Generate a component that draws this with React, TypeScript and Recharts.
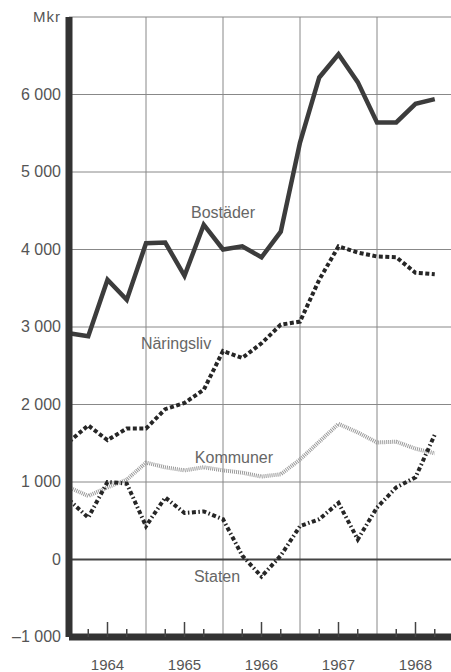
import { LineChart, Line, XAxis, YAxis, CartesianGrid, ReferenceLine, ReferenceDot } from 'recharts';

// quarterly values, 1964 Q1 .. 1968 Q4 (index 0..19)
const quarters = Array.from({ length: 20 }, (_, i) => i);
const bostader = [2920, 2880, 3610, 3350, 4080, 4090, 3660, 4320, 4000, 4040, 3900, 4230, 5380, 6220, 6520, 6160, 5640, 5640, 5880, 5940];
const naringsliv = [1520, 1730, 1540, 1690, 1690, 1940, 2020, 2190, 2690, 2600, 2790, 3030, 3070, 3610, 4040, 3960, 3910, 3900, 3700, 3680];
const kommuner = [930, 820, 930, 1030, 1250, 1190, 1150, 1190, 1150, 1120, 1070, 1100, 1290, 1520, 1750, 1640, 1510, 1520, 1430, 1370];
const staten = [770, 540, 1000, 980, 430, 800, 600, 620, 520, 50, -220, 50, 430, 520, 730, 260, 670, 930, 1060, 1610];

const years = ['1964', '1965', '1966', '1967', '1968'];
const yTicks = [-1000, 0, 1000, 2000, 3000, 4000, 5000, 6000, 7000];
const xTicks = quarters.filter(q => q % 4 !== 0);
const yearLines = [4, 8, 12, 16];

const data = quarters.map(i => ({
  q: i,
  bostader: bostader[i],
  naringsliv: naringsliv[i],
  kommuner: kommuner[i],
  staten: staten[i],
}));

const FONT = '"Liberation Sans", Arial, sans-serif';
const BOTTOM = 637;

const fmt = (v: number) => {
  if (v === 0) return '0';
  const s = Math.abs(v).toString().replace(/\B(?=(\d{3})+(?!\d))/g, ' ');
  return v < 0 ? '\u2013' + s : s;
};

const YTick = ({ y, payload }: any) => {
  const v = payload.value;
  if (v === 7000) {
    return (
      <text x={61} y={y + 5} textAnchor="end" fontSize={15} letterSpacing={1} fill="#555" fontFamily={FONT}>
        Mkr
      </text>
    );
  }
  return (
    <text x={61} y={y + 5} textAnchor="end" fontSize={16} fill="#555" fontFamily={FONT}>
      {fmt(v)}
    </text>
  );
};

const XTick = ({ x, payload }: any) => {
  const q = payload.value;
  const mid = q % 4 === 2;
  return (
    <g>
      <line x1={x} x2={x} y1={BOTTOM} y2={mid ? BOTTOM - 15 : BOTTOM - 8} stroke="#444" strokeWidth={1.5} />
      {mid && (
        <text x={x} y={670} textAnchor="middle" fontSize={15} fill="#555" fontFamily={FONT}>
          {years[Math.floor(q / 4)]}
        </text>
      )}
    </g>
  );
};

const seriesLabel = (value: string) => ({
  value,
  position: 'center' as const,
  fill: '#666',
  fontSize: 16,
  fontFamily: FONT,
});

export default function App() {
  return (
    <div style={{ position: 'absolute', left: 0, top: 0, width: 451, height: 672, overflow: 'hidden', background: '#fff' }}>
      <LineChart width={460} height={672} data={data} margin={{ top: 17, right: 6, left: 0, bottom: 0 }}>
        <CartesianGrid vertical={false} stroke="#888" strokeWidth={1} />
        {yearLines.map(x => (
          <ReferenceLine key={x} x={x} stroke="#888" strokeWidth={1} />
        ))}
        <ReferenceLine y={0} stroke="#444" strokeWidth={2} />
        <XAxis
          dataKey="q"
          type="number"
          domain={[0, 20]}
          ticks={xTicks}
          interval={0}
          height={35}
          tickLine={false}
          axisLine={{ stroke: '#333', strokeWidth: 7 }}
          tick={<XTick />}
        />
        <YAxis
          type="number"
          domain={[-1000, 7000]}
          ticks={yTicks}
          interval={0}
          width={69}
          tickLine={false}
          axisLine={{ stroke: '#333', strokeWidth: 7 }}
          tick={<YTick />}
        />
        <Line dataKey="kommuner" stroke="#9a9a9a" strokeWidth={4} strokeDasharray="1 1" dot={false} isAnimationActive={false} />
        <Line dataKey="staten" stroke="#262626" strokeWidth={4} strokeDasharray="4 2.5 1.5 2.5" dot={false} isAnimationActive={false} />
        <Line dataKey="naringsliv" stroke="#262626" strokeWidth={4} strokeDasharray="4 2.5" dot={false} isAnimationActive={false} />
        <Line dataKey="bostader" stroke="#3c3c3c" strokeWidth={4.5} dot={false} isAnimationActive={false} />
        <ReferenceDot x={8} y={4480} r={0} stroke="none" label={seriesLabel('Bostäder')} />
        <ReferenceDot x={5.56} y={2790} r={0} stroke="none" label={seriesLabel('Näringsliv')} />
        <ReferenceDot x={8.57} y={1316} r={0} stroke="none" label={seriesLabel('Kommuner')} />
        <ReferenceDot x={7.69} y={-219} r={0} stroke="none" label={seriesLabel('Staten')} />
      </LineChart>
    </div>
  );
}
